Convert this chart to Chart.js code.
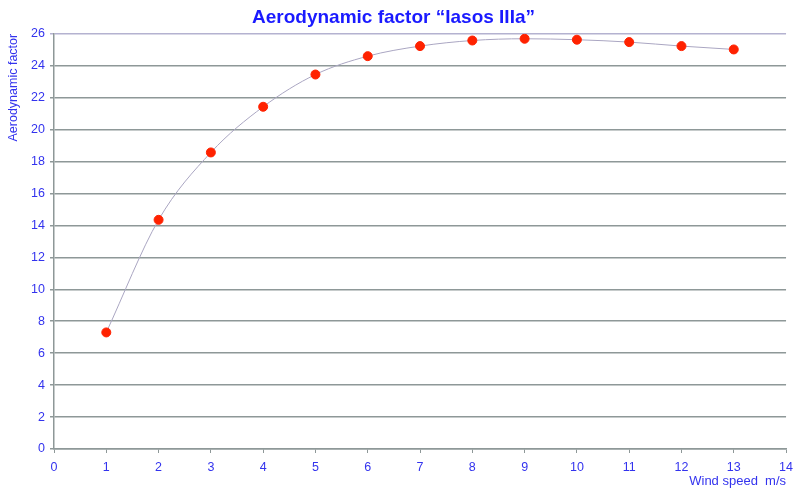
<!DOCTYPE html>
<html>
<head>
<meta charset="utf-8">
<script src="https://cdn.jsdelivr.net/npm/chart.js@4"></script>
<style>
  html, body { margin: 0; padding: 0; background: #fff; }
  #wrap { width: 800px; height: 493px; }
</style>
</head>
<body>
<div id="wrap"><canvas id="myChart"></canvas></div>
<script>
const windSpeed = [1, 2, 3, 4, 5, 6, 7, 8, 9, 10, 11, 12, 13];
const factor = [7.3, 14.35, 18.57, 21.43, 23.45, 24.6, 25.23, 25.58, 25.69, 25.63, 25.48, 25.23, 25.02];

const BLUE = "#3333ee";
const GRID = "#8e9898";

let points = windSpeed.map((x, i) => ({ x: x, y: factor[i] }));

const config = {
    type: 'line',
    data: {
        datasets: [{
            label: 'Aerodynamic factor',
            data: points,
            borderColor: '#aaa6c2',
            borderWidth: 1,
            cubicInterpolationMode: 'monotone',
            pointBackgroundColor: '#ff2200',
            pointBorderColor: '#ff2200',
            pointRadius: 4.5,
            pointHoverRadius: 4.5
        }]
    },
    options: {
        responsive: true,
        maintainAspectRatio: false,
        animation: false,
        layout: { padding: { left: 0, right: 13, top: 0, bottom: 0 } },
        plugins: {
            legend: { display: false },
            tooltip: { enabled: false },
            title: {
                display: true,
                text: 'Aerodynamic factor “Iasos IIIa”',
                color: '#1a1aff',
                font: { family: 'Liberation Sans, Arial', size: 19, weight: 'bold' },
                padding: { top: 6, bottom: 5 }
            }
        },
        scales: {
            x: {
                type: 'linear',
                min: 0,
                max: 14,
                ticks: {
                    stepSize: 1,
                    color: BLUE,
                    font: { family: 'Liberation Sans, Arial', size: 12.5 },
                    padding: 7
                },
                grid: {
                    drawOnChartArea: false,
                    drawTicks: true,
                    tickLength: 4,
                    color: GRID
                },
                border: { color: GRID, width: 1.5 },
                title: {
                    display: true,
                    text: 'Wind speed  m/s',
                    align: 'end',
                    color: BLUE,
                    font: { family: 'Liberation Sans, Arial', size: 13 },
                    padding: { top: 0, bottom: 4 }
                },
                afterFit: scale => { scale.height = 44; }
            },
            y: {
                min: 0,
                max: 26,
                ticks: {
                    stepSize: 2,
                    color: BLUE,
                    font: { family: 'Liberation Sans, Arial', size: 12.5 },
                    padding: 5
                },
                grid: {
                    color: ctx => ctx.tick && ctx.tick.value === 26 ? '#b4b2d0' : GRID,
                    lineWidth: 1.5,
                    tickLength: 4
                },
                border: { color: GRID, width: 1.5 },
                title: {
                    display: true,
                    text: 'Aerodynamic factor',
                    align: 'end',
                    color: BLUE,
                    font: { family: 'Liberation Sans, Arial', size: 12.5 },
                    padding: { top: 6, bottom: 0 }
                },
                afterFit: scale => { scale.width = 54; }
            }
        }
    }
};

var myChart = new Chart(document.getElementById('myChart'), config);
</script>
</body>
</html>
